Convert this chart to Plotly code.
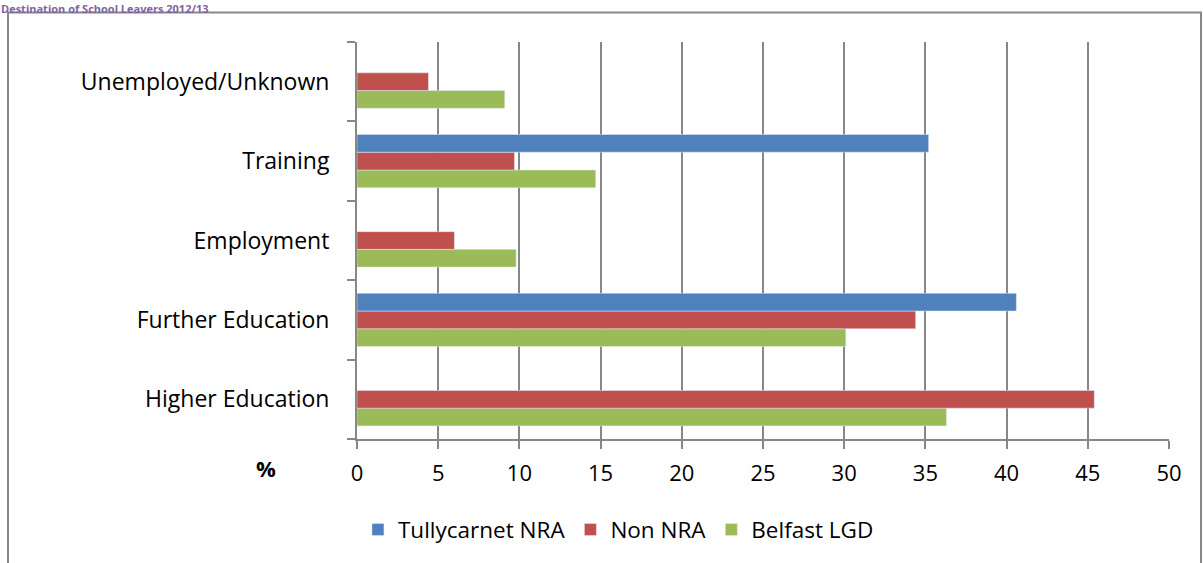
"""
Destination of School Leavers 2012/13 - horizontal grouped bar chart
"""

import plotly.graph_objects as go

# categories listed bottom -> top
categories = ["Higher Education", "Further Education", "Employment", "Training", "Unemployed/Unknown"]

tullycarnet_nra = [None, 40.6, None, 35.2, None]
non_nra = [45.4, 34.4, 6.0, 9.7, 4.4]
belfast_lgd = [36.3, 30.1, 9.8, 14.7, 9.1]

x_ticks = [0, 5, 10, 15, 20, 25, 30, 35, 40, 45, 50]

FONT = "Open Sans, Lato, sans-serif"
GRID = "#878787"


def build_chart():
    fig = go.Figure()

    # plotly puts the first trace at the bottom of each group
    fig.add_trace(go.Bar(y=categories, x=belfast_lgd, name="Belfast LGD",
                         orientation="h", marker_color="#9BBB59"))
    fig.add_trace(go.Bar(y=categories, x=non_nra, name="Non NRA",
                         orientation="h", marker_color="#C0504D"))
    fig.add_trace(go.Bar(y=categories, x=tullycarnet_nra, name="Tullycarnet NRA",
                         orientation="h", marker_color="#4F81BD"))

    fig.update_layout(
        width=1203,
        height=563,
        margin=dict(l=357, r=34, t=42, b=124),
        paper_bgcolor="white",
        plot_bgcolor="white",
        barmode="group",
        bargap=0.33,
        bargroupgap=0,
        font=dict(family=FONT, size=22, color="#000000"),
        showlegend=True,
        legend=dict(
            orientation="h",
            traceorder="reversed",
            x=0.322, xanchor="center",
            y=-0.229, yanchor="middle",
            font=dict(size=22.5),
            itemwidth=30,
        ),
        xaxis=dict(
            range=[0, 50],
            tickvals=x_ticks,
            tickfont=dict(size=22),
            showgrid=True,
            gridcolor=GRID,
            gridwidth=2,
            showline=True,
            linecolor=GRID,
            linewidth=2,
            ticks="outside",
            ticklen=8,
            tickwidth=2,
            tickcolor=GRID,
            ticklabelstandoff=6,
            zeroline=False,
            fixedrange=True,
        ),
        yaxis=dict(
            categoryorder="array",
            categoryarray=categories,
            tickfont=dict(size=23),
            showgrid=False,
            showline=True,
            linecolor=GRID,
            linewidth=2,
            ticks="outside",
            tickson="boundaries",
            ticklen=8,
            tickwidth=2,
            tickcolor=GRID,
            ticklabelstandoff=21,
            fixedrange=True,
        ),
    )

    # outer chart frame
    fig.add_shape(type="rect", xref="paper", yref="paper",
                  x0=-0.4298, x1=1.0394, y0=-0.4, y1=1.0743,
                  line=dict(color=GRID, width=2), layer="below")

    # "%" axis caption
    fig.add_annotation(text="<b>%</b>", xref="paper", yref="paper",
                       x=-0.112, y=-0.073, xanchor="center", yanchor="middle",
                       showarrow=False, font=dict(size=22, family=FONT))

    # title strip above the frame
    fig.add_annotation(text="<b>Destination of School Leavers 2012/13</b>",
                       xref="paper", yref="paper",
                       x=-0.4396, y=1.1058, xanchor="left", yanchor="top",
                       showarrow=False, borderpad=0,
                       font=dict(size=11, family=FONT, color="#8064A2"))

    # drop the default body margin so the figure fills the window
    fig.write_html("out.html", config={"displayModeBar": False},
                   post_script="document.body.style.margin = '0';")
    print("Saved: out.html")


if __name__ == "__main__":
    build_chart()
